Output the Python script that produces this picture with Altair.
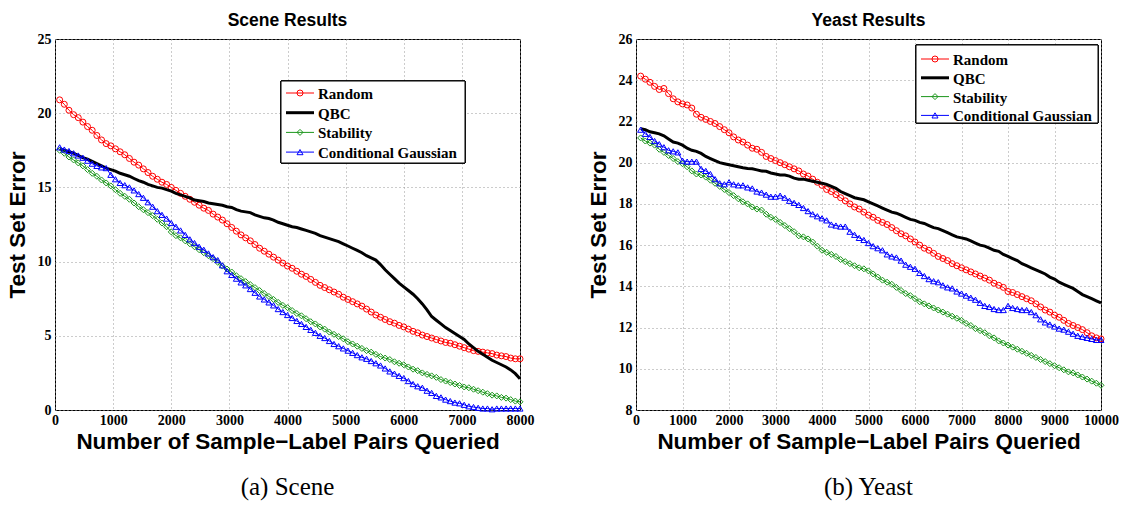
import altair as alt
import pandas as pd

SERIES = ["Random", "QBC", "Stability", "Conditional Gaussian"]
COLORS = ["#ff0000", "#000000", "#1c961c", "#0000ff"]
SHAPES = ["circle", None, "diamond", "triangle-up"]
WIDTHS = [1, 3, 1, 1]

X_TITLE = "Number of Sample−Label Pairs Queried"
Y_TITLE = "Test Set Error"

# ---- Scene data set (queries every 80 samples) ----
scene_queries = list(range(80, 8001, 80))
scene_random = [
    20.9, 20.6, 20.2, 19.9, 19.7, 19.4, 19.1, 18.85, 18.5, 18.2,
    17.95, 17.8, 17.6, 17.4, 17.2, 16.95, 16.7, 16.5, 16.25, 16.0,
    15.75, 15.55, 15.35, 15.2, 15.0, 14.8, 14.6, 14.4, 14.2, 14.0,
    13.8, 13.6, 13.45, 13.2, 13.0, 12.8, 12.55, 12.3, 12.05, 11.8,
    11.6, 11.4, 11.15, 10.9, 10.7, 10.5, 10.3, 10.1, 9.9, 9.7,
    9.55, 9.35, 9.15, 9.0, 8.8, 8.6, 8.4, 8.25, 8.1, 7.95,
    7.8, 7.6, 7.45, 7.3, 7.15, 7.0, 6.8, 6.6, 6.4, 6.25,
    6.1, 5.95, 5.85, 5.7, 5.6, 5.45, 5.3, 5.2, 5.05, 4.95,
    4.85, 4.75, 4.65, 4.55, 4.5, 4.4, 4.3, 4.2, 4.1, 4.0,
    3.95, 3.9, 3.85, 3.8, 3.7, 3.65, 3.6, 3.5, 3.45, 3.45,
]
scene_qbc = [
    17.6, 17.5, 17.4, 17.3, 17.15, 17.0, 16.9, 16.75, 16.6, 16.45,
    16.3, 16.2, 16.1, 15.95, 15.85, 15.75, 15.6, 15.45, 15.35, 15.2,
    15.1, 15.0, 14.95, 14.85, 14.75, 14.6, 14.5, 14.4, 14.3, 14.15,
    14.1, 14.05, 13.95, 13.9, 13.85, 13.8, 13.7, 13.65, 13.5, 13.4,
    13.35, 13.3, 13.15, 13.05, 12.95, 12.9, 12.8, 12.65, 12.55, 12.45,
    12.35, 12.3, 12.2, 12.1, 12.0, 11.9, 11.75, 11.65, 11.55, 11.45,
    11.35, 11.2, 11.05, 10.9, 10.75, 10.6, 10.4, 10.25, 10.1, 9.8,
    9.45, 9.15, 8.85, 8.55, 8.3, 8.05, 7.8, 7.5, 7.15, 6.75,
    6.3, 6.05, 5.8, 5.55, 5.35, 5.15, 4.95, 4.75, 4.45, 4.2,
    3.95, 3.75, 3.55, 3.35, 3.2, 3.05, 2.9, 2.7, 2.45, 2.1,
]
scene_stability = [
    17.5, 17.3, 17.05, 16.85, 16.65, 16.45, 16.2, 15.95, 15.75, 15.5,
    15.3, 15.1, 14.85, 14.6, 14.4, 14.2, 13.95, 13.7, 13.5, 13.3,
    13.1, 12.85, 12.6, 12.35, 12.0, 11.75, 11.6, 11.4, 11.2, 11.0,
    10.8, 10.6, 10.4, 10.2, 9.95, 9.7, 9.5, 9.3, 9.05, 8.85,
    8.65, 8.45, 8.25, 8.05, 7.85, 7.65, 7.45, 7.25, 7.05, 6.9,
    6.7, 6.5, 6.35, 6.15, 5.95, 5.8, 5.6, 5.45, 5.25, 5.1,
    4.95, 4.8, 4.6, 4.45, 4.3, 4.15, 4.0, 3.9, 3.75, 3.6,
    3.5, 3.4, 3.25, 3.15, 3.05, 2.9, 2.75, 2.65, 2.5, 2.4,
    2.3, 2.2, 2.05, 1.95, 1.85, 1.75, 1.65, 1.55, 1.5, 1.4,
    1.3, 1.2, 1.1, 1.0, 0.95, 0.85, 0.8, 0.7, 0.6, 0.55,
]
scene_gaussian = [
    17.7, 17.55, 17.45, 17.3, 17.15, 17.0, 16.8, 16.6, 16.45, 16.35,
    16.3, 15.85, 15.55, 15.3, 15.15, 15.0, 14.8, 14.55, 14.3, 14.0,
    13.7, 13.4, 13.15, 12.9, 12.6, 12.35, 12.1, 11.8, 11.5, 11.25,
    11.0, 10.8, 10.55, 10.3, 10.1, 9.75, 9.35, 9.1, 8.85, 8.6,
    8.4, 8.15, 7.9, 7.65, 7.45, 7.25, 7.05, 6.8, 6.6, 6.4,
    6.2, 6.0, 5.8, 5.6, 5.4, 5.2, 5.0, 4.85, 4.65, 4.45,
    4.3, 4.15, 4.0, 3.85, 3.7, 3.55, 3.45, 3.3, 3.15, 3.0,
    2.8, 2.6, 2.45, 2.3, 2.15, 1.95, 1.75, 1.6, 1.5, 1.3,
    1.15, 0.95, 0.85, 0.7, 0.6, 0.5, 0.45, 0.35, 0.25, 0.2,
    0.15, 0.1, 0.1, 0.05, 0.1, 0.1, 0.1, 0.1, 0.1, 0.1,
]

# ---- Yeast data set (queries every 100 samples) ----
yeast_queries = list(range(100, 10001, 100))
yeast_random = [
    24.2, 24.05, 23.9, 23.7, 23.55, 23.6, 23.35, 23.1, 22.95, 22.85,
    22.8, 22.65, 22.35, 22.2, 22.1, 22.0, 21.9, 21.75, 21.6, 21.45,
    21.25, 21.1, 21.0, 20.85, 20.7, 20.65, 20.5, 20.3, 20.2, 20.1,
    20.0, 19.9, 19.8, 19.7, 19.6, 19.45, 19.35, 19.2, 19.05, 18.9,
    18.7, 18.6, 18.45, 18.3, 18.15, 18.0, 17.85, 17.75, 17.6, 17.45,
    17.35, 17.2, 17.1, 17.0, 16.85, 16.7, 16.55, 16.45, 16.3, 16.15,
    16.0, 15.85, 15.75, 15.6, 15.45, 15.35, 15.25, 15.1, 15.0, 14.9,
    14.8, 14.7, 14.6, 14.5, 14.4, 14.3, 14.15, 14.05, 13.95, 13.75,
    13.7, 13.6, 13.5, 13.4, 13.3, 13.15, 13.0, 12.85, 12.75, 12.6,
    12.5, 12.35, 12.2, 12.1, 12.0, 11.9, 11.75, 11.6, 11.5, 11.45,
]
yeast_qbc = [
    21.65, 21.6, 21.5, 21.45, 21.4, 21.3, 21.15, 21.0, 20.95, 20.85,
    20.7, 20.6, 20.55, 20.45, 20.3, 20.2, 20.1, 20.0, 19.95, 19.9,
    19.85, 19.8, 19.75, 19.72, 19.7, 19.65, 19.6, 19.58, 19.5, 19.45,
    19.4, 19.4, 19.35, 19.25, 19.2, 19.2, 19.15, 19.1, 19.05, 19.0,
    18.95, 18.85, 18.75, 18.6, 18.5, 18.4, 18.3, 18.25, 18.2, 18.1,
    18.0, 17.9, 17.8, 17.7, 17.6, 17.55, 17.45, 17.35, 17.25, 17.2,
    17.1, 17.05, 16.95, 16.85, 16.8, 16.7, 16.6, 16.5, 16.4, 16.35,
    16.3, 16.2, 16.1, 16.0, 15.95, 15.85, 15.75, 15.7, 15.55, 15.45,
    15.35, 15.25, 15.1, 15.0, 14.9, 14.8, 14.7, 14.6, 14.45, 14.35,
    14.2, 14.1, 14.0, 13.9, 13.75, 13.6, 13.5, 13.4, 13.3, 13.2,
]
yeast_stability = [
    21.2, 21.05, 20.95, 20.85, 20.65, 20.5, 20.35, 20.2, 20.05, 19.95,
    19.8, 19.6, 19.45, 19.4, 19.3, 19.15, 19.0, 18.85, 18.7, 18.55,
    18.4, 18.25, 18.1, 18.0, 17.85, 17.75, 17.7, 17.5, 17.35, 17.25,
    17.1, 16.95, 16.8, 16.65, 16.45, 16.4, 16.3, 16.15, 15.95, 15.75,
    15.65, 15.55, 15.45, 15.3, 15.2, 15.1, 15.0, 14.9, 14.85, 14.75,
    14.6, 14.45, 14.3, 14.2, 14.1, 13.95, 13.8, 13.65, 13.55, 13.4,
    13.25, 13.15, 13.05, 12.95, 12.85, 12.75, 12.65, 12.55, 12.45, 12.35,
    12.2, 12.1, 11.95, 11.85, 11.75, 11.6, 11.5, 11.35, 11.25, 11.15,
    11.05, 10.95, 10.85, 10.75, 10.65, 10.55, 10.45, 10.35, 10.25, 10.15,
    10.05, 9.95, 9.85, 9.8, 9.7, 9.6, 9.5, 9.4, 9.3, 9.2,
]
yeast_gaussian = [
    21.6, 21.4, 21.25, 21.05, 20.9, 20.75, 20.6, 20.55, 20.5, 20.1,
    20.05, 20.05, 20.05, 19.7, 19.6, 19.45, 19.2, 19.0, 18.95, 19.05,
    18.95, 18.9, 18.9, 18.8, 18.75, 18.6, 18.55, 18.45, 18.35, 18.35,
    18.4, 18.3, 18.15, 18.05, 17.95, 17.8, 17.65, 17.5, 17.4, 17.3,
    17.2, 17.0, 16.95, 16.9, 16.9, 16.65, 16.5, 16.35, 16.25, 16.1,
    15.95, 15.85, 15.75, 15.55, 15.45, 15.4, 15.25, 15.05, 14.95, 14.85,
    14.65, 14.5, 14.35, 14.25, 14.2, 14.05, 13.95, 13.9, 13.75, 13.65,
    13.55, 13.45, 13.35, 13.2, 13.05, 13.0, 12.9, 12.85, 12.85, 13.05,
    12.95, 12.9, 12.85, 12.85, 12.75, 12.6, 12.4, 12.25, 12.15, 12.05,
    11.95, 11.9, 11.8, 11.7, 11.6, 11.55, 11.5, 11.45, 11.4, 11.4,
]

AXIS_STYLE = dict(
    labelFont="Liberation Serif", labelFontWeight="bold", labelFontSize=14,
    labelColor="black", labelFlush=False, labelOverlap=False,
    ticks=False, domain=False,
    grid=True, gridColor="#999999", gridDash=[1, 3], gridWidth=1, gridOpacity=1,
    titleFont="Liberation Sans", titleFontWeight="bold", titleFontSize=22.5,
    titleColor="black", format="d",
)


def panel(title, caption, queries, curves, x_max, y_min, y_max, y_step,
          width, height, box, row_top, row_step, title_offset, caption_y):
    x_enc = alt.X(
        "queries:Q",
        scale=alt.Scale(domain=[0, x_max], nice=False, zero=False),
        axis=alt.Axis(values=list(range(0, x_max + 1, 1000)), title=X_TITLE,
                      labelPadding=3, titlePadding=3, **AXIS_STYLE),
    )
    y_enc = alt.Y(
        "error:Q",
        scale=alt.Scale(domain=[y_min, y_max], nice=False, zero=False),
        axis=alt.Axis(values=list(range(y_min, y_max + 1, y_step)), title=Y_TITLE,
                      labelPadding=4, titlePadding=8, **AXIS_STYLE),
    )

    layers = []
    for name, color, shape, sw, values in zip(SERIES, COLORS, SHAPES, WIDTHS, curves):
        df = pd.DataFrame({"queries": queries, "error": values})
        base = alt.Chart(df)
        layers.append(
            base.mark_line(color=color, strokeWidth=sw, clip=True).encode(x=x_enc, y=y_enc)
        )
        if shape:
            layers.append(
                base.mark_point(shape=shape, color=color, filled=False, size=36,
                                strokeWidth=1, opacity=1).encode(x=x_enc, y=y_enc)
            )

    # in-plot legend: white box with line samples, markers and labels
    bx0, bx1, by0, by1 = box
    leg = pd.DataFrame({"series": SERIES, "row": list(range(len(SERIES)))})
    leg_base = alt.Chart(leg).transform_calculate(
        ly=f"{row_top} + datum.row * {row_step}"
    )
    ly = alt.Y("ly:Q", scale=None, axis=None)
    color = alt.Color("series:N", scale=alt.Scale(domain=SERIES, range=COLORS), legend=None)
    layers.append(
        alt.Chart(leg).mark_rect(fill="white", stroke="black", strokeWidth=1).encode(
            x=alt.value(bx0), x2=alt.value(bx1), y=alt.value(by0), y2=alt.value(by1)
        )
    )
    layers.append(
        leg_base.mark_rule().encode(
            x=alt.value(bx0 + 5), x2=alt.value(bx0 + 33), y=ly, color=color,
            strokeWidth=alt.StrokeWidth(
                "series:N",
                scale=alt.Scale(type="ordinal", domain=SERIES, range=WIDTHS),
                legend=None),
        )
    )
    marked = [s for s, sh in zip(SERIES, SHAPES) if sh]
    layers.append(
        leg_base.transform_filter(alt.FieldOneOfPredicate(field="series", oneOf=marked))
        .mark_point(filled=False, size=36, strokeWidth=1, opacity=1)
        .encode(
            x=alt.value(bx0 + 19), y=ly, color=color,
            shape=alt.Shape("series:N",
                            scale=alt.Scale(domain=marked,
                                            range=[sh for sh in SHAPES if sh]),
                            legend=None),
        )
    )
    layers.append(
        leg_base.mark_text(align="left", baseline="middle", font="Liberation Serif",
                           fontWeight="bold", fontSize=15, color="black", dy=1)
        .encode(x=alt.value(bx0 + 37), y=ly, text="series:N")
    )

    # sub-figure caption under the axis title
    layers.append(
        alt.Chart(pd.DataFrame({"caption": [caption]}))
        .mark_text(font="Liberation Serif", fontSize=25, color="black",
                   align="center", baseline="middle")
        .encode(text="caption:N", x=alt.value(width / 2), y=alt.value(caption_y))
    )

    return alt.layer(*layers).properties(
        width=width,
        height=height,
        title=alt.TitleParams(title, font="Liberation Sans", fontSize=17.5,
                              fontWeight="bold", color="black", offset=title_offset,
                              frame="group"),
    )


left = panel("Scene Results", "(a) Scene", scene_queries,
             [scene_random, scene_qbc, scene_stability, scene_gaussian],
             8000, 0, 25, 5, 465, 371,
             box=(226, 410, 42, 124), row_top=54, row_step=19.7,
             title_offset=3, caption_y=448)

right = panel("Yeast Results", "(b) Yeast", yeast_queries,
              [yeast_random, yeast_qbc, yeast_stability, yeast_gaussian],
              10000, 8, 26, 2, 465, 371,
              box=(280, 462, 6, 84), row_top=20, row_step=18.8,
              title_offset=3, caption_y=448)

chart = (
    alt.hconcat(left, right, spacing=116, bounds="flush")
    .properties(background="white", padding={"left": 5, "top": 11, "right": 0, "bottom": 0})
    .configure_view(stroke="black", strokeWidth=1)
)

chart.save("out.html", embed_options={"renderer": "svg", "actions": False})
